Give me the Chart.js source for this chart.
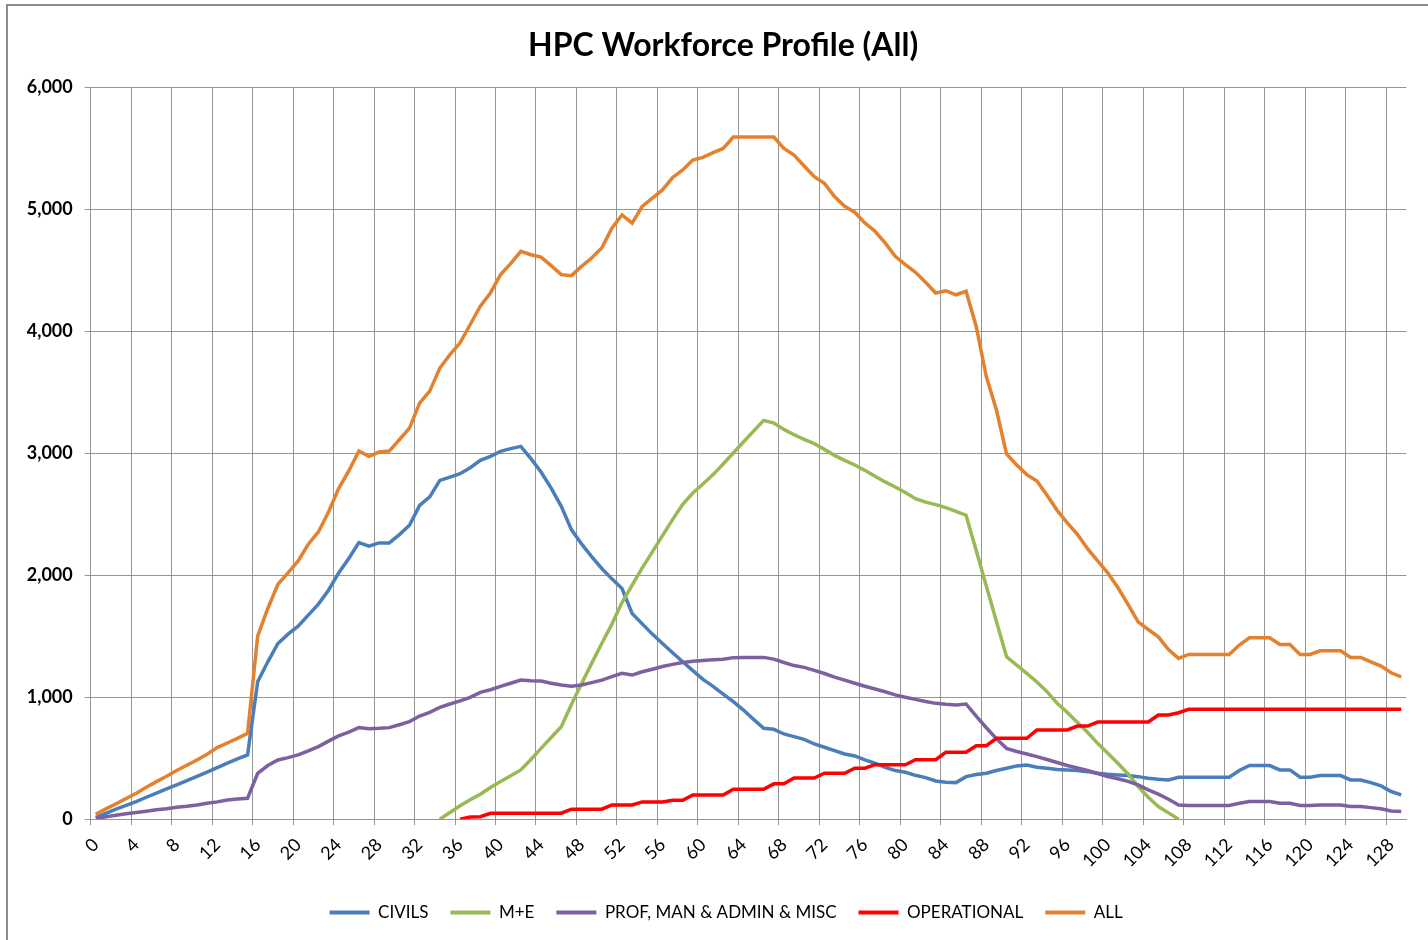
<!DOCTYPE html>
<html>
<head>
<meta charset="utf-8">
<script src="https://cdn.jsdelivr.net/npm/chart.js@4.4.1/dist/chart.umd.min.js"></script>
<style>
  html, body { margin: 0; padding: 0; background: #fff; overflow: hidden; }
  #wrap { position: relative; width: 1428px; height: 940px; }
  #frame { position: absolute; left: 6px; top: 4px; width: 1500px; height: 1000px; border: 2px solid #8c8c8c; box-sizing: border-box; }
  canvas { position: absolute; left: 0; top: 0; }
</style>
</head>
<body>
<div id="wrap">
  <div id="frame"></div>
  <canvas id="c" width="1428" height="940"></canvas>
</div>
<script>
const categories = [0,1,2,3,4,5,6,7,8,9,10,11,12,13,14,15,16,17,18,19,20,21,22,23,24,25,26,27,28,29,30,31,32,33,34,35,36,37,38,39,40,41,42,43,44,45,46,47,48,49,50,51,52,53,54,55,56,57,58,59,60,61,62,63,64,65,66,67,68,69,70,71,72,73,74,75,76,77,78,79,80,81,82,83,84,85,86,87,88,89,90,91,92,93,94,95,96,97,98,99,100,101,102,103,104,105,106,107,108,109,110,111,112,113,114,115,116,117,118,119,120,121,122,123,124,125,126,127,128,129];

const tickLabels = [0,4,8,12,16,20,24,28,32,36,40,44,48,52,56,60,64,68,72,76,80,84,88,92,96,100,104,108,112,116,120,124,128];

const yTicks = [0,1000,2000,3000,4000,5000,6000];

const civils = [15,48,82,113,145,180,214,248,281,316,352,386,423,460,494,527,1127,1291,1441,1518,1583,1674,1764,1878,2020,2138,2269,2239,2266,2266,2334,2411,2574,2643,2779,2806,2834,2883,2943,2976,3017,3039,3058,2957,2847,2716,2566,2375,2258,2154,2056,1971,1892,1687,1602,1518,1441,1365,1291,1218,1147,1089,1026,964,895,819,745,737,699,677,655,617,590,562,535,519,486,459,426,399,385,360,341,314,303,300,349,366,377,399,418,437,445,426,418,407,404,399,390,377,369,363,358,349,336,328,322,344,344,344,344,344,344,399,440,440,440,404,404,344,344,358,358,358,322,322,300,273,227,199];

const mAndE = [null,null,null,null,null,null,null,null,null,null,null,null,null,null,null,null,null,null,null,null,null,null,null,null,null,null,null,null,null,null,null,null,null,null,0,55,110,160,205,260,310,357,404,490,581,670,759,940,1111,1278,1441,1600,1777,1919,2061,2192,2326,2457,2583,2675,2749,2826,2913,3003,3093,3183,3271,3249,3197,3153,3115,3080,3033,2984,2943,2905,2861,2812,2766,2725,2680,2629,2600,2580,2555,2525,2493,2203,1913,1622,1332,1264,1196,1125,1046,950,876,794,713,622,541,459,371,268,180,104,52,0,null,null,null,null,null,null,null,null,null,null,null,null,null,null,null,null,null,null,null,null,null,null];

const profManAdmin = [5,20,32,44,55,66,78,86,98,106,116,130,142,157,165,172,377,440,486,505,527,560,595,640,683,715,751,742,745,751,775,800,846,876,917,945,970,999,1040,1062,1090,1115,1141,1135,1133,1115,1100,1090,1100,1120,1141,1170,1196,1182,1209,1230,1252,1270,1285,1295,1302,1308,1312,1325,1327,1327,1327,1313,1285,1260,1245,1220,1195,1165,1140,1115,1090,1068,1045,1020,1000,983,965,950,942,936,945,845,750,660,581,555,535,513,490,465,440,420,399,375,350,332,310,281,240,205,164,117,112,112,112,112,112,131,145,145,145,131,131,112,112,117,117,117,104,104,95,85,68,63];

const operational = [null,null,null,null,null,null,null,null,null,null,null,null,null,null,null,null,null,null,null,null,null,null,null,null,null,null,null,null,null,null,null,null,null,null,null,null,0,18,21,48,49,49,49,49,49,49,49,82,82,82,82,117,117,117,142,142,142,155,155,199,199,199,199,246,246,246,246,290,290,338,338,338,377,377,377,418,418,447,447,447,447,488,488,488,549,549,549,603,603,663,663,663,663,732,732,732,732,764,764,797,797,797,797,797,797,855,855,873,901,901,901,901,901,901,901,901,901,901,901,901,901,901,901,901,901,901,901,901,901,901];

const all = [41,85,126,170,213,262,308,352,399,442,486,532,587,625,663,704,1501,1728,1927,2020,2118,2255,2356,2520,2711,2856,3019,2976,3011,3019,3112,3208,3412,3511,3700,3810,3907,4057,4207,4316,4466,4556,4657,4629,4610,4540,4466,4458,4534,4602,4684,4847,4956,4888,5025,5093,5161,5262,5324,5406,5428,5466,5501,5595,5595,5595,5595,5595,5501,5447,5357,5270,5215,5106,5027,4978,4890,4822,4726,4616,4548,4485,4403,4315,4334,4301,4329,4041,3630,3356,2995,2905,2826,2774,2656,2533,2430,2337,2219,2118,2020,1900,1761,1619,1556,1496,1392,1319,1351,1351,1351,1351,1351,1428,1488,1488,1488,1433,1433,1351,1351,1381,1381,1381,1327,1327,1291,1256,1201,1168];

const seriesNames = ['CIVILS','M+E','PROF, MAN & ADMIN & MISC','OPERATIONAL','ALL'];
const seriesColors = ['#4A7EBB','#98B954','#7D60A0','#FF0000','#E3812F'];
const seriesData = [civils, mAndE, profManAdmin, operational, all];

const gridColor = '#969696';
Chart.defaults.font.family = 'Lato, "Open Sans", sans-serif';
Chart.defaults.color = '#000';

const datasets = seriesNames.map((name, k) => ({
  label: name,
  data: seriesData[k],
  borderColor: seriesColors[k],
  backgroundColor: seriesColors[k],
  borderWidth: 3.5,
  pointRadius: 0,
  tension: 0,
  spanGaps: false,
  order: seriesNames.length - k
}));

const shiftBoxes = {
  id: 'shiftBoxes',
  afterLayout(chart) {
    const l = chart.legend;
    if (l) { l.left += 23; l.right += 23; }
    const t = chart.titleBlock;
    if (t) { t.left += 20; t.right += 20; }
  }
};

new Chart(document.getElementById('c'), {
  type: 'line',
  data: { labels: categories.map(String), datasets },
  plugins: [shiftBoxes],
  options: {
    responsive: false,
    devicePixelRatio: 1,
    animation: false,
    layout: { padding: { left: 0, right: 21.7, top: 0, bottom: 9 } },
    plugins: {
      title: {
        display: true,
        text: 'HPC Workforce Profile (All)',
        font: { size: 32, weight: 'bold' },
        color: '#000',
        padding: { top: 26.8, bottom: 22.4 }
      },
      legend: {
        position: 'bottom',
        labels: {
          boxWidth: 40,
          boxHeight: 4,
          padding: 22,
          font: { size: 17 },
          color: '#000',
          sort: (a, b) => a.datasetIndex - b.datasetIndex,
          generateLabels: (chart) => Chart.defaults.plugins.legend.labels.generateLabels(chart).map(l => Object.assign(l, { lineWidth: 0 }))
        }
      },
      tooltip: { enabled: false }
    },
    scales: {
      x: {
        type: 'category',
        offset: true,
        grid: {
          offset: true,
          color: (ctx) => (ctx.index % 4 === 0 ? gridColor : 'rgba(0,0,0,0)'),
          lineWidth: 1,
          drawTicks: true,
          tickLength: 6
        },
        border: { display: true, color: gridColor },
        ticks: {
          autoSkip: false,
          minRotation: 45,
          maxRotation: 45,
          padding: 9,
          font: { size: 18 },
          color: '#000',
          callback: (v, i) => (tickLabels.includes(categories[i]) ? String(categories[i]) : '')
        },
        afterFit: (s) => { s.height = 62.8; }
      },
      y: {
        min: yTicks[0],
        max: yTicks[yTicks.length - 1],
        grid: { color: gridColor, lineWidth: 1, tickLength: 6 },
        border: { display: true, color: gridColor },
        ticks: {
          stepSize: 1000,
          padding: 12,
          font: { size: 18, weight: 'bold' },
          color: '#000',
          callback: (v) => Number(v).toLocaleString('en-US')
        },
        afterFit: (s) => { s.width = 90.7; }
      }
    }
  }
});
</script>
</body>
</html>
